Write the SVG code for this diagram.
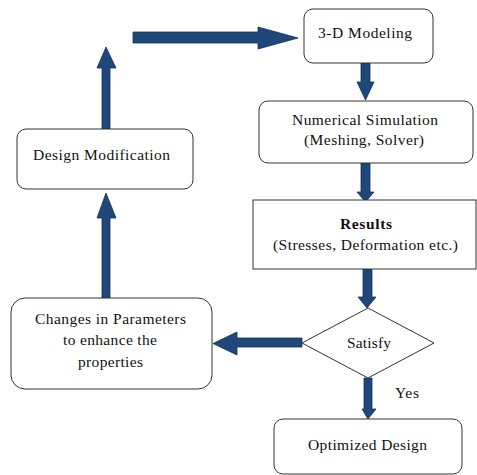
<svg xmlns="http://www.w3.org/2000/svg" width="477" height="475" viewBox="0 0 477 475">
<style>
.box{fill:#fff;stroke:#333;stroke-width:1}
.arr{fill:#1F477A;stroke:#13325A;stroke-width:0.8}
text{font-family:'Liberation Serif','Times New Roman',serif;font-size:15.5px;fill:#111;text-anchor:middle}
</style>
<rect width="477" height="475" fill="#fff"/>
<g id="connectors">
<polygon class="arr" points="133,32 258,32 258,27 298,38 258,49 258,43 133,43"/>
<polygon class="arr" points="102,129 102,68 97,68 106,47 116,68 110,68 110,129"/>
<polygon class="arr" points="102,298 102,218 97,218 106,193 116,218 110,218 110,298"/>
<polygon class="arr" points="361,63 370,63 370,82 374,82 365.5,100 357,82 361,82"/>
<polygon class="arr" points="361,163 370,163 370,192 374,192 365.5,202 357,192 361,192"/>
<polygon class="arr" points="363,269 372,269 372,297 376,297 367,308 358,297 363,297"/>
<polygon class="arr" points="302,338 302,347 237,347 237,355 213,343.5 237,332 237,338"/>
<polygon class="arr" points="364,378 372,378 372,409 376,409 368,419 362,409 364,409"/>
</g>
<g id="modeling">
<rect class="box" x="304" y="9" width="129" height="54" rx="9"/>
<text x="365" y="38" textLength="94">3-D Modeling</text>
</g>
<g id="simulation">
<rect class="box" x="259" y="101" width="214" height="62" rx="9"/>
<text x="365" y="125" textLength="146">Numerical Simulation</text>
<text x="364" y="145" textLength="120">(Meshing, Solver)</text>
</g>
<g id="results">
<rect class="box" x="253" y="200" width="223" height="69"/>
<text x="366" y="229" font-weight="bold" textLength="52">Results</text>
<text x="365.5" y="250" textLength="185">(Stresses, Deformation etc.)</text>
</g>
<g id="design-mod">
<rect class="box" x="17" y="129" width="176" height="60" rx="9"/>
<text x="101.5" y="160" textLength="137">Design Modification</text>
</g>
<g id="changes">
<rect class="box" x="11" y="298" width="201" height="91" rx="14"/>
<text x="110.5" y="324" textLength="151">Changes in Parameters</text>
<text x="110" y="345" textLength="94">to enhance the</text>
<text x="110.5" y="367" textLength="65">properties</text>
</g>
<g id="satisfy">
<polygon class="box" points="302,343 368,308 434,343 368,378"/>
<text x="369" y="348" textLength="44">Satisfy</text>
</g>
<text x="407" y="398" textLength="24">Yes</text>
<g id="optimized">
<rect class="box" x="274" y="419" width="188" height="55" rx="9"/>
<text x="367.5" y="450" textLength="119">Optimized Design</text>
</g>
</svg>
